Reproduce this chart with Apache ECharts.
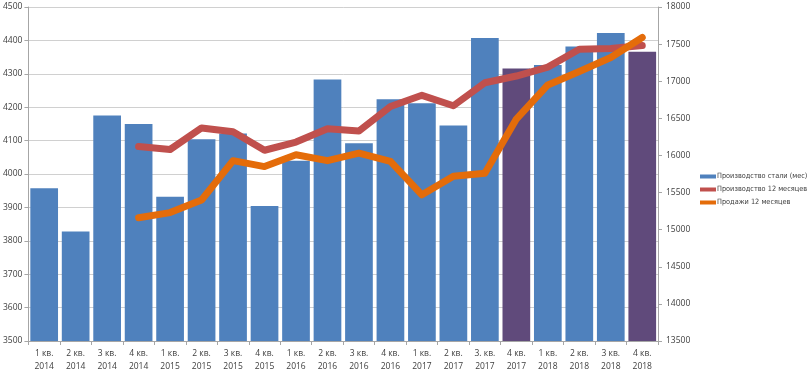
<!DOCTYPE html>
<html><head><meta charset="utf-8">
<script src="https://cdn.jsdelivr.net/npm/echarts@6/dist/echarts.min.js"></script>
<style>html,body{margin:0;padding:0;background:#fff}#c{width:807px;height:373px}</style>
</head><body><div id="c"></div>
<script>
const categories = ["1 кв.\n2014","2 кв.\n2014","3 кв.\n2014","4 кв.\n2014","1 кв.\n2015","2 кв.\n2015","3 кв.\n2015","4 кв.\n2015","1 кв.\n2016","2 кв.\n2016","3 кв.\n2016","4 кв.\n2016","1 кв.\n2017","2 кв.\n2017","3. кв.\n2017","4 кв.\n2017","1 кв.\n2018","2 кв.\n2018","3 кв.\n2018","4 кв.\n2018"];
const steelMonthly = [3957,3828,4175,4150,3932,4104,4121,3904,4040,4283,4092,4224,4212,4145,4407,4316,4326,4382,4422,4366];
const highlighted = [15,19];
const prod12 = [null,null,null,16120,16080,16370,16320,16070,16180,16360,16330,16660,16810,16670,16980,17070,17190,17430,17440,17480];
const sales12 = [null,null,null,15160,15230,15400,15930,15850,16010,15930,16030,15920,15470,15720,15760,16490,16950,17130,17320,17590];
const leftTicks = {min:3500,max:4500,interval:100};
const rightTicks = {min:13500,max:18000,interval:500};

const font = 'Open Sans';
const txt = {fontFamily:font,fontSize:8.5,color:'#404040'};
const chart = echarts.init(document.getElementById('c'));
chart.setOption({
  animation:false,
  grid:{left:27,right:149,top:7,bottom:28},
  legend:{
    orient:'vertical',left:695,top:168,itemGap:6,itemWidth:16,itemHeight:4,
    textStyle:{fontFamily:"'DejaVu Sans Condensed','Liberation Sans',sans-serif",fontSize:7.3,color:'#404040',padding:[0,0,0,-4]},
    data:[{name:'Производство стали (мес)',icon:'rect'},{name:'Производство 12 месяцев',icon:'rect'},{name:'Продажи 12 месяцев',icon:'rect'}]
  },
  xAxis:{type:'category',data:categories,
    axisLine:{lineStyle:{color:'#A6A6A6'}},
    axisTick:{show:true,length:4,lineStyle:{color:'#A6A6A6'}},
    axisLabel:Object.assign({},txt,{interval:0,lineHeight:13,margin:6})},
  yAxis:[
    {type:'value',min:leftTicks.min,max:leftTicks.max,interval:leftTicks.interval,
     axisLine:{show:true,lineStyle:{color:'#A6A6A6'}},
     axisTick:{show:true,length:4,lineStyle:{color:'#A6A6A6'}},
     splitLine:{lineStyle:{color:'#D0D0D0'}},
     axisLabel:Object.assign({},txt,{margin:6,formatter:v=>String(v)})},
    {type:'value',min:rightTicks.min,max:rightTicks.max,interval:rightTicks.interval,position:'right',
     axisLine:{show:true,lineStyle:{color:'#A6A6A6'}},
     axisTick:{show:true,length:4,lineStyle:{color:'#A6A6A6'}},
     splitLine:{show:false},
     axisLabel:Object.assign({},txt,{margin:8,formatter:v=>String(v)})}
  ],
  series:[
    {name:'Производство стали (мес)',type:'bar',yAxisIndex:0,barCategoryGap:'12%',
     itemStyle:{color:'#4F81BD'},
     data:steelMonthly.map((v,i)=>highlighted.includes(i)?{value:v,itemStyle:{color:'#604A7B'}}:v)},
    {name:'Производство 12 месяцев',type:'line',yAxisIndex:1,data:prod12,symbol:'none',
     itemStyle:{color:'#C0504D'},lineStyle:{color:'#C0504D',width:7,cap:'round',join:'round'}},
    {name:'Продажи 12 месяцев',type:'line',yAxisIndex:1,data:sales12,symbol:'none',
     itemStyle:{color:'#E46C0A'},lineStyle:{color:'#E46C0A',width:7,cap:'round',join:'round'}}
  ]
});
</script></body></html>
